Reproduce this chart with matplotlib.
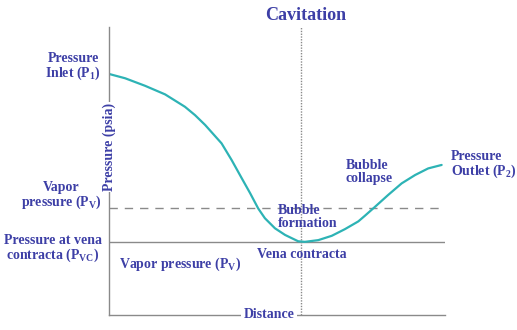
import matplotlib
matplotlib.use("Agg")
import matplotlib.pyplot as plt

## DATA
# distance along the valve (0..10) and pressure (0..10)
distance = [0.00, 0.48, 1.07, 1.67, 2.26, 2.56, 2.86, 3.35, 3.65, 3.95, 4.20, 4.44,
            4.64, 4.94, 5.24, 5.63, 5.83, 6.23, 6.63, 7.02, 7.42, 7.62, 7.92, 8.31,
            8.71, 9.11, 9.50, 9.90]
pressure = [8.37, 8.22, 7.96, 7.66, 7.23, 6.94, 6.60, 5.96, 5.38, 4.75, 4.23, 3.70,
            3.36, 3.01, 2.78, 2.56, 2.54, 2.60, 2.75, 2.98, 3.25, 3.45, 3.76, 4.17,
            4.57, 4.86, 5.09, 5.21]
vapor_pressure = 3.72
vena_pressure = 2.53
vena_distance = 5.71

## STYLE
# text blue and curve teal
TEXT_BLUE = "#3d3fa6"
CURVE = "#2db3b5"
GREY = "#8a8a8a"
W, H = 517, 330

plt.rcParams["font.family"] = "Liberation Serif"
plt.rcParams["mathtext.fontset"] = "custom"
plt.rcParams["mathtext.rm"] = "Liberation Serif:bold"
plt.rcParams["mathtext.it"] = "Liberation Serif:bold"

fig = plt.figure(figsize=(W / 100, H / 100), dpi=100)
ax = fig.add_axes([109 / W, 15 / H, 336 / W, 288 / H])
ax.set_xlim(0, 10)
ax.set_ylim(0, 10)
ax.set_xticks([])
ax.set_yticks([])
for side in ["top", "right"]:
    ax.spines[side].set_visible(False)
for side in ["left", "bottom"]:
    ax.spines[side].set_color(GREY)
    ax.spines[side].set_linewidth(1.0)

# reference levels
ax.axhline(vapor_pressure, color=GREY, linestyle=(0, (6, 5)), linewidth=1.0)
ax.axhline(vena_pressure, color=GREY, linewidth=1.0)
ax.axvline(vena_distance, color=GREY, linestyle=(0, (1, 1)), linewidth=1.0)

# pressure curve
ax.plot(distance, pressure, color=CURVE, linewidth=1.6,
        solid_capstyle="round", solid_joinstyle="round")


# helper: place text by pixel position of the picture
def label(x, y, s, size=10, ha="center", ma=None, **kw):
    fig.text(x / W, 1 - y / H, s, ha=ha, va="center", color=TEXT_BLUE,
             fontsize=size, fontweight="bold", multialignment=ma or ha,
             linespacing=1.05, **kw)


label(306, 15, "Cavitation", size=13)
label(101, 67, "Pressure\nInlet ($P_1$)", ha="right", ma="center")
label(61, 196, "Vapor\npressure ($P_V$)", ma="center")
label(53, 249, "Pressure at vena\ncontracta ($P_{VC}$)", ma="center")
label(180, 264, "Vapor pressure ($P_V$)")
label(302, 255, "Vena contracta")
label(278, 217, "Bubble\nformation", ha="left")
label(346, 172, "Bubble\ncollapse", ha="left")
label(451, 165, "Pressure\nOutlet ($P_2$)", ha="left")
label(269, 315, "Distance",
      bbox=dict(facecolor="white", edgecolor="none", pad=1.5))
label(109, 147, "Pressure (psia)", rotation=90,
      bbox=dict(facecolor="white", edgecolor="none", pad=1.0))

fig.savefig("out.png", dpi=100)
